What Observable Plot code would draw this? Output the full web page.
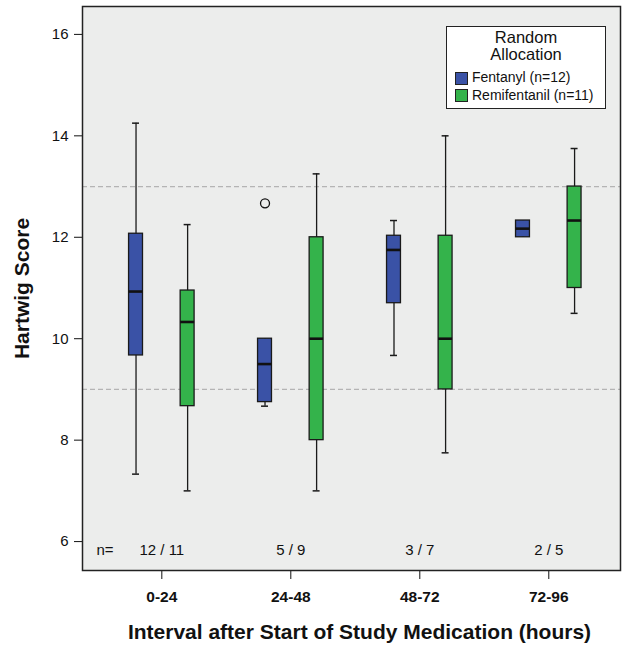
<!DOCTYPE html>
<html>
<head>
<meta charset="utf-8">
<script src="https://cdn.jsdelivr.net/npm/d3@7"></script>
<script src="https://cdn.jsdelivr.net/npm/@observablehq/plot@0.6"></script>
<style>
  html, body { margin: 0; padding: 0; background: #fff; }
  #wrap { position: relative; width: 624px; height: 645px; font-family: "Liberation Sans", Arial, Helvetica, sans-serif; }
  #legend { position: absolute; left: 446px; top: 26px; width: 160px; height: 83px; border: 1.3px solid #222; background: #fff; box-sizing: border-box; color: #111; }
  #legend .title { text-align: center; font-size: 16.5px; line-height: 16.7px; margin-top: 2px; }
  #legend .item { display: flex; align-items: center; font-size: 14px; line-height: 17.4px; margin-left: 8px; }
  #legend .sw { width: 13px; height: 13px; border: 1px solid #222; margin-right: 4px; box-sizing: border-box; }
</style>
</head>
<body>
<div id="wrap"></div>
<script>
// ---- data ----
const intervals = ["0-24", "24-48", "48-72", "72-96"];
const nLabels = ["12 / 11", "5 / 9", "3 / 7", "2 / 5"];
const groups = ["Fentanyl (n=12)", "Remifentanil (n=11)"];
const groupColors = ["#3A52A6", "#34B34B"];

const fentanylLow  = [7.33, 8.67, 9.67, 12.0];
const fentanylQ1   = [9.67, 8.75, 10.7, 12.0];
const fentanylMed  = [10.93, 9.5, 11.75, 12.17];
const fentanylQ3   = [12.07, 10.0, 12.03, 12.33];
const fentanylHigh = [14.25, 10.0, 12.33, 12.33];

const remiLow  = [7.0, 7.0, 7.75, 10.5];
const remiQ1   = [8.67, 8.0, 9.0, 11.0];
const remiMed  = [10.33, 10.0, 10.0, 12.33];
const remiQ3   = [10.95, 12.0, 12.03, 13.0];
const remiHigh = [12.25, 13.25, 14.0, 13.75];

const outlierInterval = ["24-48"];
const outlierGroup = ["Fentanyl (n=12)"];
const outlierValue = [12.67];

const refLines = [9, 13];
const yTicks = [6, 8, 10, 12, 14, 16];

// ---- tables ----
const rows = [];
intervals.forEach((iv, i) => {
  rows.push({interval: iv, group: groups[0], low: fentanylLow[i], q1: fentanylQ1[i], med: fentanylMed[i], q3: fentanylQ3[i], high: fentanylHigh[i]});
  rows.push({interval: iv, group: groups[1], low: remiLow[i], q1: remiQ1[i], med: remiMed[i], q3: remiQ3[i], high: remiHigh[i]});
});
const outliers = outlierValue.map((v, i) => ({interval: outlierInterval[i], group: outlierGroup[i], value: v}));

const dodge = 0.2, halfBox = 0.054, halfCap = 0.027;
const pos = d => intervals.indexOf(d.interval) + (d.group === groups[0] ? -dodge : dodge);

const chart = Plot.plot({
  width: 624,
  height: 645,
  marginLeft: 82,
  marginTop: 6,
  marginRight: 4,
  marginBottom: 75,
  style: {fontFamily: '"Liberation Sans", Arial, Helvetica, sans-serif', color: "#111", background: "transparent"},
  x: {type: "linear", domain: [-0.615, 3.556]},
  y: {domain: [5.43, 16.55]},
  color: {domain: groups, range: groupColors},
  marks: [
    Plot.frame({fill: "#ECEDEC"}),
    Plot.ruleY(refLines, {stroke: "#b4b4b4", strokeDasharray: "5,3", strokeWidth: 1.2}),
    Plot.ruleX(rows, {x: pos, y1: "low", y2: "high", stroke: "#1a1a1a", strokeWidth: 1.3}),
    Plot.ruleY(rows.filter(d => d.low < d.q1), {y: "low", x1: d => pos(d) - halfCap, x2: d => pos(d) + halfCap, stroke: "#1a1a1a", strokeWidth: 1.5}),
    Plot.ruleY(rows.filter(d => d.high > d.q3), {y: "high", x1: d => pos(d) - halfCap, x2: d => pos(d) + halfCap, stroke: "#1a1a1a", strokeWidth: 1.5}),
    Plot.rect(rows, {x1: d => pos(d) - halfBox, x2: d => pos(d) + halfBox, y1: "q1", y2: "q3", fill: "group", stroke: "#1a1a1a", strokeWidth: 1.3}),
    Plot.ruleY(rows, {y: "med", x1: d => pos(d) - halfBox, x2: d => pos(d) + halfBox, stroke: "#111", strokeWidth: 2.6}),
    Plot.dot(outliers, {x: pos, y: "value", r: 4.5, stroke: "#111", fill: "none", strokeWidth: 1.3}),
    Plot.text(nLabels, {x: (d, i) => i, y: () => yTicks[0], dy: 9, text: d => d, fontSize: 15}),
    Plot.text(["n="], {frameAnchor: "left", y: () => yTicks[0], dy: 9, dx: 14, textAnchor: "start", fontSize: 15}),
    Plot.axisY({ticks: yTicks, tickSize: 8, tickPadding: 6, fontSize: 15, label: null}),
    Plot.axisX({ticks: [0, 1, 2, 3], tickFormat: i => intervals[i], tickSize: 9, tickPadding: 11, fontSize: 15.5, fontWeight: "bold", label: null}),
    Plot.text(["Hartwig Score"], {frameAnchor: "left", textAnchor: "middle", dx: -60, rotate: -90, fontSize: 21, fontWeight: "bold"}),
    Plot.text(["Interval after Start of Study Medication (hours)"], {frameAnchor: "bottom", lineAnchor: "middle", textAnchor: "middle", dy: 62, dx: 8, fontSize: 21, fontWeight: "bold"}),
    Plot.frame({stroke: "#222", strokeWidth: 1.5})
  ]
});

const wrap = document.getElementById("wrap");
wrap.appendChild(chart);

const legend = document.createElement("div");
legend.id = "legend";
legend.innerHTML = `<div class="title">Random<br>Allocation</div><div style="height:7px"></div>` +
  groups.map((g, i) => `<div class="item"><span class="sw" style="background:${groupColors[i]}"></span>${g}</div>`).join("");
wrap.appendChild(legend);
</script>
</body>
</html>
